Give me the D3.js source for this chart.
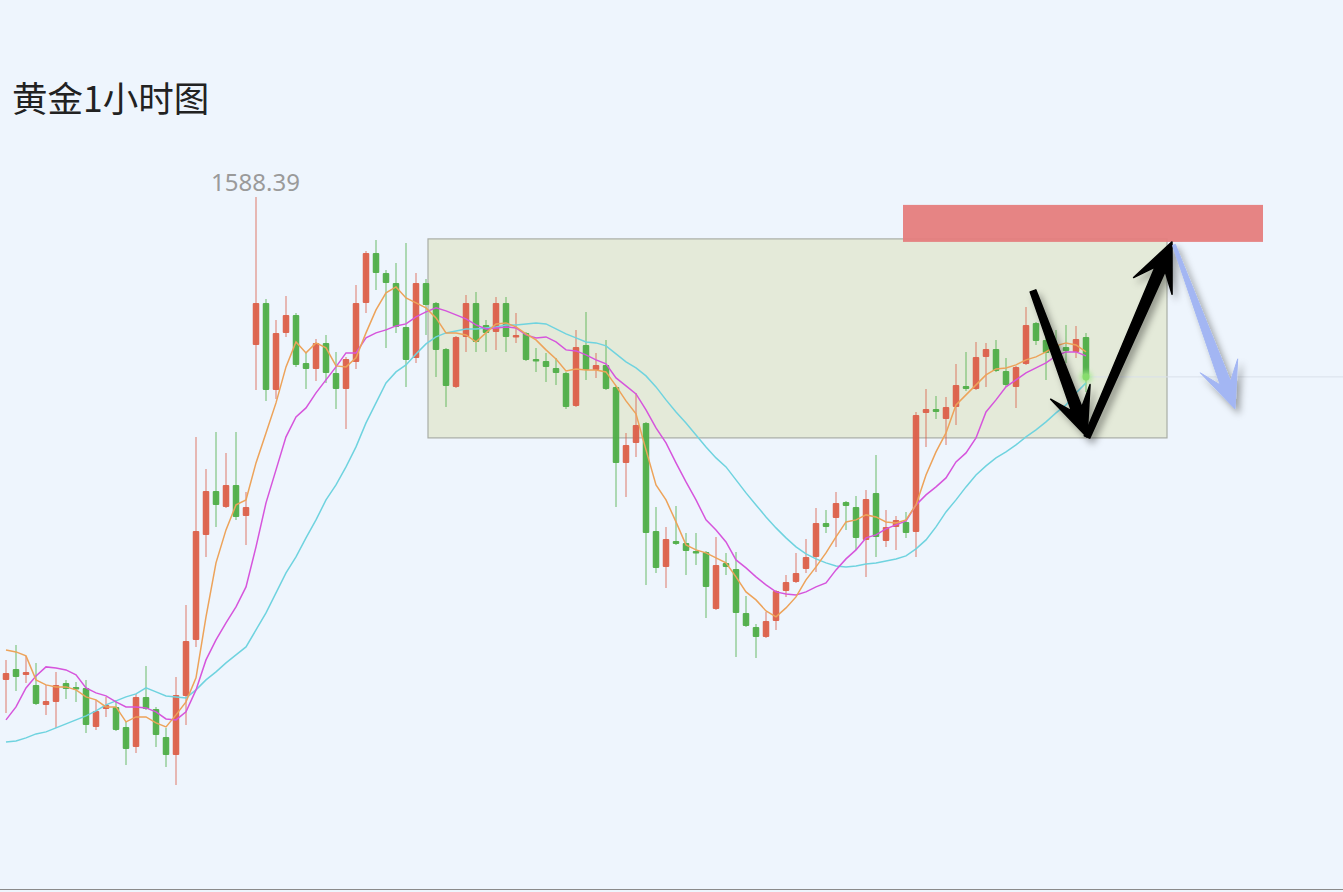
<!DOCTYPE html>
<html><head><meta charset="utf-8">
<script src="https://cdnjs.cloudflare.com/ajax/libs/d3/7.8.5/d3.min.js"></script>
<style>html,body{margin:0;padding:0;background:#eef5fd;overflow:hidden}</style>
</head><body>
<svg id="c" width="1343" height="892"></svg>
<script>
// ---- data (prices) ----
const opens  = [1540.1,1541.2,1540.6,1539.6,1537.6,1537.9,1539.8,1539.4,1539.3,1535.4,
1537.2,1537.4,1535.4,1533.4,1538.4,1537.2,1534.4,1532.6,1538.5,1544.1,
1554.6,1559.0,1557.4,1559.6,1556.5,1573.6,1577.8,1569.1,1574.8,1576.6,
1571.8,1571.2,1573.8,1570.8,1569.2,1571.9,1577.8,1582.8,1580.8,1579.8,
1575.4,1572.3,1579.8,1577.8,1573.2,1569.4,1574.4,1577.8,1575.6,1574.9,
1577.8,1574.4,1574.8,1572.2,1572.0,1571.3,1570.8,1567.5,1573.6,1571.1,
1571.6,1569.4,1561.8,1563.8,1565.8,1555.0,1551.4,1554.0,1553.8,1553.0,
1552.9,1547.2,1551.8,1551.2,1546.8,1545.4,1544.4,1546.0,1549.0,1549.9,
1551.2,1552.4,1555.8,1556.3,1557.9,1557.4,1554.1,1558.8,1554.0,1555.4,
1555.9,1554.9,1566.8,1567.2,1566.2,1567.4,1569.5,1569.2,1572.4,1573.2,
1571.0,1569.4,1571.7,1575.8,1574.1,1573.6,1573.4,1572.9,1574.4];
const closes = [1540.8,1540.4,1540.9,1537.7,1538.0,1539.6,1539.2,1539.2,1535.6,1537.0,
1537.6,1535.1,1533.2,1538.4,1537.2,1534.6,1532.6,1538.6,1544.0,1555.0,
1559.0,1557.6,1559.6,1556.4,1557.4,1577.8,1569.1,1574.8,1576.6,1571.6,
1571.2,1573.8,1570.8,1569.2,1572.2,1577.8,1582.8,1580.8,1579.8,1575.4,
1572.1,1579.8,1577.6,1573.1,1569.5,1574.4,1577.8,1573.9,1574.8,1577.8,
1574.4,1574.6,1572.1,1572.0,1571.4,1570.8,1567.4,1573.4,1571.1,1571.6,
1569.2,1561.8,1563.6,1565.6,1554.8,1551.3,1554.2,1553.7,1553.0,1552.8,
1549.4,1551.6,1551.4,1546.8,1545.5,1544.4,1546.0,1549.0,1549.9,1550.8,
1552.4,1555.8,1555.4,1557.8,1557.5,1554.3,1558.2,1554.4,1555.4,1556.1,
1554.8,1566.6,1567.2,1566.9,1567.4,1569.6,1569.2,1572.4,1573.2,1571.0,
1569.6,1571.4,1575.6,1574.0,1572.8,1572.9,1573.0,1574.2,1570.4];
const highs  = [1542.1,1543.6,1542.5,1541.8,1539.6,1540.9,1540.1,1539.9,1540.1,1538.1,
1538.4,1538.1,1535.9,1538.7,1541.5,1537.4,1535.3,1540.4,1547.6,1564.4,
1561.2,1564.9,1562.8,1564.9,1558.9,1588.39,1578.2,1576.1,1578.5,1576.8,
1572.8,1574.2,1574.6,1572.9,1572.4,1579.6,1583.0,1584.1,1581.1,1581.8,
1583.8,1580.8,1580.2,1577.9,1573.3,1574.5,1578.6,1578.9,1576.1,1578.4,
1578.4,1576.8,1574.9,1573.3,1572.8,1572.3,1570.9,1575.1,1576.9,1572.8,
1574.1,1569.5,1564.8,1568.8,1565.9,1557.4,1555.4,1557.5,1554.8,1554.8,
1553.0,1554.4,1552.8,1552.9,1548.5,1545.7,1546.9,1549.1,1550.6,1552.8,
1554.2,1557.3,1557.1,1558.9,1558.0,1558.5,1559.1,1562.6,1557.1,1556.5,
1556.9,1566.9,1569.2,1568.5,1568.4,1571.7,1572.9,1573.9,1573.8,1574.1,
1572.3,1571.5,1577.4,1575.9,1574.9,1575.1,1575.6,1575.5,1574.8];
const lows   = [1536.8,1539.0,1539.8,1537.6,1536.6,1535.3,1538.2,1537.9,1534.8,1535.1,
1536.4,1535.0,1531.6,1532.8,1537.1,1533.4,1531.4,1529.6,1535.6,1543.4,
1552.4,1555.4,1557.3,1556.1,1553.6,1569.1,1568.0,1568.2,1574.4,1571.4,
1569.2,1570.0,1569.8,1567.2,1565.2,1571.2,1576.8,1579.1,1573.3,1574.8,
1569.4,1571.8,1574.6,1570.4,1567.4,1569.3,1572.9,1572.9,1572.9,1573.1,
1572.9,1573.8,1572.0,1570.9,1569.9,1569.6,1567.2,1567.4,1570.1,1570.3,
1569.1,1557.4,1558.4,1562.4,1549.6,1550.8,1549.3,1553.6,1550.6,1551.6,
1546.3,1547.1,1550.6,1542.4,1545.4,1542.3,1544.3,1545.1,1548.4,1549.8,
1550.8,1550.9,1554.8,1553.4,1555.1,1553.1,1550.4,1552.4,1553.4,1553.1,
1554.3,1552.4,1563.4,1566.2,1563.6,1565.6,1569.0,1569.1,1569.4,1570.9,
1569.4,1567.3,1571.6,1573.6,1570.1,1571.6,1571.8,1572.3,1568.9];
const ma5  = [1543.1,1542.9,1542.5,1540.1,1539.6,1539.4,1539.4,1539.1,1538.4,1538.1,
1537.4,1537.4,1535.9,1536.4,1536.4,1535.8,1535.4,1536.6,1537.9,1540.3,
1546.4,1551.8,1555.1,1557.6,1558.1,1561.8,1564.8,1567.8,1571.4,1573.9,
1572.8,1573.8,1573.3,1571.5,1571.4,1572.3,1574.8,1577.1,1578.8,1579.4,
1578.3,1577.8,1577.3,1576.3,1574.8,1574.8,1574.6,1573.9,1574.8,1575.7,
1575.8,1575.4,1574.7,1574.1,1573.1,1572.2,1571.0,1571.2,1571.1,1571.1,
1570.9,1569.5,1568.0,1566.7,1563.1,1559.6,1558.1,1555.9,1553.6,1553.1,
1552.8,1552.3,1551.8,1550.4,1548.9,1548.1,1547.0,1546.4,1547.3,1548.4,
1550.1,1551.4,1552.8,1554.4,1555.9,1556.1,1556.6,1556.4,1555.9,1555.8,
1556.1,1557.6,1560.6,1562.9,1564.8,1567.6,1568.6,1569.6,1570.6,1571.2,
1571.3,1571.6,1572.1,1572.4,1572.9,1573.5,1573.8,1573.6,1572.9];
const ma10 = [1536.1,1537.4,1539.3,1540.5,1541.4,1541.3,1541.1,1540.6,1539.3,1538.8,
1538.5,1537.9,1537.4,1537.4,1537.3,1536.9,1536.2,1536.1,1536.9,1539.1,
1542.1,1544.1,1545.8,1547.4,1549.4,1553.4,1557.8,1561.1,1564.4,1566.4,
1567.3,1568.8,1570.1,1571.4,1572.8,1572.8,1574.3,1574.8,1575.1,1575.5,
1575.7,1576.4,1576.9,1577.3,1577.0,1576.6,1576.2,1575.6,1575.2,1575.3,
1575.4,1575.3,1574.6,1574.3,1574.4,1573.9,1573.1,1573.0,1572.6,1572.1,
1571.7,1570.3,1569.5,1568.7,1567.1,1565.3,1563.8,1561.8,1559.9,1558.1,
1556.1,1555.1,1553.9,1552.1,1551.3,1550.4,1549.6,1548.9,1548.7,1548.6,
1548.9,1549.4,1549.8,1551.1,1552.2,1553.1,1554.3,1554.6,1555.2,1555.6,
1556.0,1557.6,1558.6,1559.4,1560.3,1561.9,1562.8,1564.3,1566.9,1568.1,
1569.4,1570.1,1570.8,1571.3,1571.8,1572.5,1572.9,1572.9,1572.5];
const ma20 = [1533.9,1534.0,1534.3,1534.7,1534.9,1535.3,1535.7,1536.1,1536.5,1537.0,
1537.6,1538.0,1538.4,1538.7,1539.3,1538.9,1538.5,1538.4,1538.3,1539.1,
1540.1,1540.9,1541.8,1542.6,1543.4,1545.1,1546.8,1548.8,1550.8,1552.4,
1554.3,1556.1,1558.1,1559.6,1561.4,1563.4,1565.8,1567.8,1569.8,1570.9,
1571.6,1572.7,1573.7,1574.4,1574.8,1575.0,1575.2,1575.2,1575.3,1575.4,
1575.6,1575.6,1575.7,1575.8,1575.7,1575.2,1574.7,1574.3,1573.9,1573.8,
1573.5,1572.7,1571.9,1571.3,1570.5,1569.4,1568.1,1566.9,1565.8,1564.6,
1563.4,1562.3,1561.4,1560.1,1558.8,1557.6,1556.4,1555.3,1554.3,1553.4,
1552.7,1552.2,1551.8,1551.5,1551.4,1551.5,1551.7,1551.8,1552.0,1552.2,
1552.5,1553.2,1554.1,1555.4,1556.9,1558.1,1559.4,1560.6,1561.5,1562.3,
1562.9,1563.6,1564.4,1565.1,1565.9,1566.8,1567.6,1568.8,1569.8];
const titleText = "黄金1小时图";
const highLabel = "1588.39";
// annotation zones in (index, price)
const zoneBox  = {i0:42.2, i1:116.1, p0:1584.2, p1:1564.3};
const zoneRed  = {i0:89.7, i1:125.7, p0:1587.6, p1:1583.9};
const arrowsBlack = [[102.7,1579.0,108.1,1564.4],[108.1,1564.4,116.6,1583.9]];
const arrowBlue = [116.8,1583.6,122.9,1567.2];

// ---- scales ----
const W=1343,H=892;
const x = d3.scaleLinear().domain([0,108]).range([6,1086]);
const y = d3.scaleLinear().domain([1588.39,1529.59]).range([197,785]);
const svg = d3.select("#c");
const defs = svg.append("defs");
const f = defs.append("filter").attr("id","sh").attr("x","-50%").attr("y","-50%").attr("width","200%").attr("height","200%");
f.append("feDropShadow").attr("dx",4).attr("dy",5).attr("stdDeviation",3.5).attr("flood-color","#000").attr("flood-opacity",0.35);
const g2 = defs.append("filter").attr("id","glow").attr("x","-100%").attr("y","-100%").attr("width","300%").attr("height","300%");
g2.append("feGaussianBlur").attr("stdDeviation",2.5);

svg.append("rect").attr("width",W).attr("height",H).attr("fill","#eef5fd");

// zone box
svg.append("rect").attr("x",x(zoneBox.i0)).attr("y",y(zoneBox.p0))
  .attr("width",x(zoneBox.i1)-x(zoneBox.i0)).attr("height",y(zoneBox.p1)-y(zoneBox.p0))
  .attr("fill","#e4ead9").attr("stroke","#a9ada6").attr("stroke-width",1.2);

// last price line
const lastIdx = closes.length-1;
svg.append("line").attr("x1",x(lastIdx)).attr("x2",W).attr("y1",y(closes[lastIdx])).attr("y2",y(closes[lastIdx]))
  .attr("stroke","#d9e0ea").attr("stroke-width",1);

// candles
const idx = d3.range(opens.length);
const RED="#dc604a", GREEN="#4fae48";
const cg = svg.append("g");
cg.selectAll("line.w").data(idx).join("line")
  .attr("x1",i=>x(i)).attr("x2",i=>x(i)).attr("y1",i=>y(highs[i])).attr("y2",i=>y(lows[i]))
  .attr("stroke",i=>closes[i]>=opens[i]?RED:GREEN).attr("stroke-opacity",0.55).attr("stroke-width",1.5);
cg.selectAll("rect.b").data(idx).join("rect")
  .attr("x",i=>x(i)-3.25).attr("width",6.5)
  .attr("y",i=>y(Math.max(opens[i],closes[i])))
  .attr("height",i=>Math.max(2.5,Math.abs(y(opens[i])-y(closes[i]))))
  .attr("rx",1)
  .attr("fill",i=>closes[i]>=opens[i]?RED:GREEN).attr("fill-opacity",0.95);

// MAs
const line = d3.line().x((d,i)=>x(i)).y(d=>y(d)).curve(d3.curveLinear);
[[ma20,"#6fd3df"],[ma10,"#d655dc"],[ma5,"#eda35a"]].forEach(([arr,col])=>{
  svg.append("path").attr("d",line(arr)).attr("fill","none").attr("stroke",col).attr("stroke-width",1.5);
});

// last point glow dot
svg.append("circle").attr("cx",x(lastIdx)).attr("cy",y(closes[lastIdx])).attr("r",6).attr("fill","#9be884").attr("opacity",0.8).attr("filter","url(#glow)");
svg.append("circle").attr("cx",x(lastIdx)).attr("cy",y(closes[lastIdx])).attr("r",3.5).attr("fill","#86dc6c");

// red zone
svg.append("rect").attr("x",x(zoneRed.i0)).attr("y",y(zoneRed.p0))
  .attr("width",x(zoneRed.i1)-x(zoneRed.i0)).attr("height",y(zoneRed.p1)-y(zoneRed.p0))
  .attr("fill","#e57d7d").attr("opacity",0.95);

// arrows
function arrowPath(x1,y1,x2,y2,w0,w1,hl,hw,notch){
  const dx=x2-x1, dy=y2-y1, L=Math.hypot(dx,dy), ux=dx/L, uy=dy/L, nx=-uy, ny=ux;
  const bx=x2-ux*hl, by=y2-uy*hl;
  const sx=x2-ux*(hl*notch), sy=y2-uy*(hl*notch);
  const p=[[x1+nx*w0/2,y1+ny*w0/2],[sx+nx*w1/2,sy+ny*w1/2],[bx+nx*hw/2,by+ny*hw/2],[x2,y2],
           [bx-nx*hw/2,by-ny*hw/2],[sx-nx*w1/2,sy-ny*w1/2],[x1-nx*w0/2,y1-ny*w0/2]];
  return "M"+p.map(q=>q.join(",")).join("L")+"Z";
}
const ag = svg.append("g").attr("filter","url(#sh)");
arrowsBlack.forEach(a=>{
  ag.append("path").attr("d",arrowPath(x(a[0]),y(a[1]),x(a[2]),y(a[3]),6,11,48,42,0.62))
    .attr("fill","#050505").attr("stroke","#050505").attr("stroke-width",1.5).attr("stroke-linejoin","round");
});
svg.append("g").attr("filter","url(#sh)").append("path")
  .attr("d",arrowPath(x(arrowBlue[0]),y(arrowBlue[1]),x(arrowBlue[2]),y(arrowBlue[3]),3,11,46,40,0.6))
  .attr("fill","#a3b6f3").attr("stroke","#a3b6f3").attr("stroke-width",1).attr("stroke-linejoin","round");

// texts
svg.append("text").attr("x",12).attr("y",112).text(titleText)
  .attr("font-family","'Noto Sans CJK SC','Noto Sans',sans-serif").attr("font-size",35.5).attr("fill","#222");
const hiIdx = highs.indexOf(d3.max(highs));
svg.append("text").attr("x",x(hiIdx)-0.5).attr("y",191).attr("text-anchor","middle").text(highLabel)
  .attr("font-family","'Noto Sans',sans-serif").attr("font-size",24).attr("fill","#9a9a9a");

// bottom border
svg.append("line").attr("x1",0).attr("x2",W).attr("y1",889.5).attr("y2",889.5).attr("stroke","#8a8a8a").attr("stroke-width",1);
</script>
</body></html>
